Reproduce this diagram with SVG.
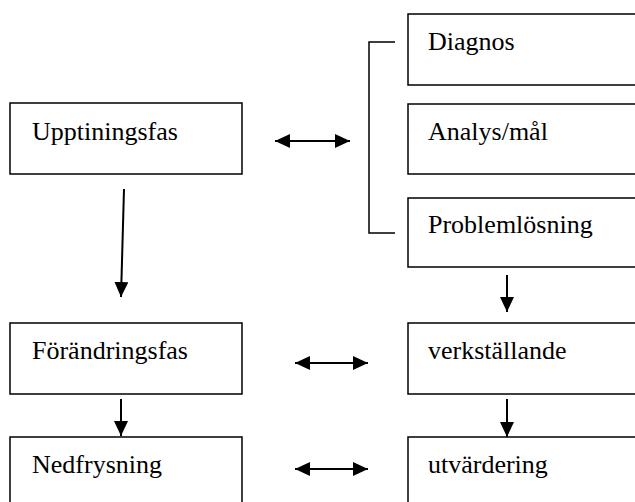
<svg xmlns="http://www.w3.org/2000/svg" width="635" height="502" viewBox="0 0 635 502">
<defs>
<style>
.box{fill:#fff;stroke:#000;stroke-width:1.5}
.lbl{font-family:"Liberation Serif","Times New Roman",serif;font-size:26px;fill:#000}
.arr{stroke:#000;stroke-width:2;fill:none}
.br{stroke:#000;stroke-width:1.5;fill:none}
</style>
<marker id="ah" viewBox="0 0 15 14" refX="15" refY="7" markerWidth="15" markerHeight="14" markerUnits="userSpaceOnUse" orient="auto-start-reverse">
<path d="M0,0 L15,7 L0,14 Z" fill="#000"/>
</marker>
</defs>
<rect width="635" height="502" fill="#fff"/>
<g id="upptiningsfas"><rect class="box" x="10" y="103" width="232" height="71"/><text class="lbl" x="32" y="140">Upptiningsfas</text></g>
<g id="forandringsfas"><rect class="box" x="10" y="323" width="232" height="71"/><text class="lbl" x="32" y="359">Förändringsfas</text></g>
<g id="nedfrysning"><rect class="box" x="10" y="437" width="232" height="80"/><text class="lbl" x="32" y="473">Nedfrysning</text></g>
<g id="diagnos"><rect class="box" x="408" y="14" width="240" height="71"/><text class="lbl" x="428" y="50">Diagnos</text></g>
<g id="analys"><rect class="box" x="408" y="104" width="240" height="70"/><text class="lbl" x="428" y="140">Analys/mål</text></g>
<g id="problemlosning"><rect class="box" x="408" y="198" width="240" height="69"/><text class="lbl" x="428" y="233">Problemlösning</text></g>
<g id="verkstallande"><rect class="box" x="408" y="323" width="240" height="71"/><text class="lbl" x="428" y="359">verkställande</text></g>
<g id="utvardering"><rect class="box" x="408" y="437" width="240" height="80"/><text class="lbl" x="428" y="473">utvärdering</text></g>
<g id="connectors">
<path class="br" d="M395,42 H369 V233 H395"/>
<line class="arr" x1="275" y1="141" x2="350" y2="141" marker-start="url(#ah)" marker-end="url(#ah)"/>
<line class="arr" x1="295" y1="363" x2="368" y2="363" marker-start="url(#ah)" marker-end="url(#ah)"/>
<line class="arr" x1="295" y1="469" x2="368" y2="469" marker-start="url(#ah)" marker-end="url(#ah)"/>
<line class="arr" x1="124" y1="189" x2="121" y2="297" marker-end="url(#ah)"/>
<line class="arr" x1="121" y1="399" x2="121" y2="436" marker-end="url(#ah)"/>
<line class="arr" x1="507" y1="275" x2="507" y2="312" marker-end="url(#ah)"/>
<line class="arr" x1="507" y1="399" x2="507" y2="437" marker-end="url(#ah)"/>
</g>
</svg>
